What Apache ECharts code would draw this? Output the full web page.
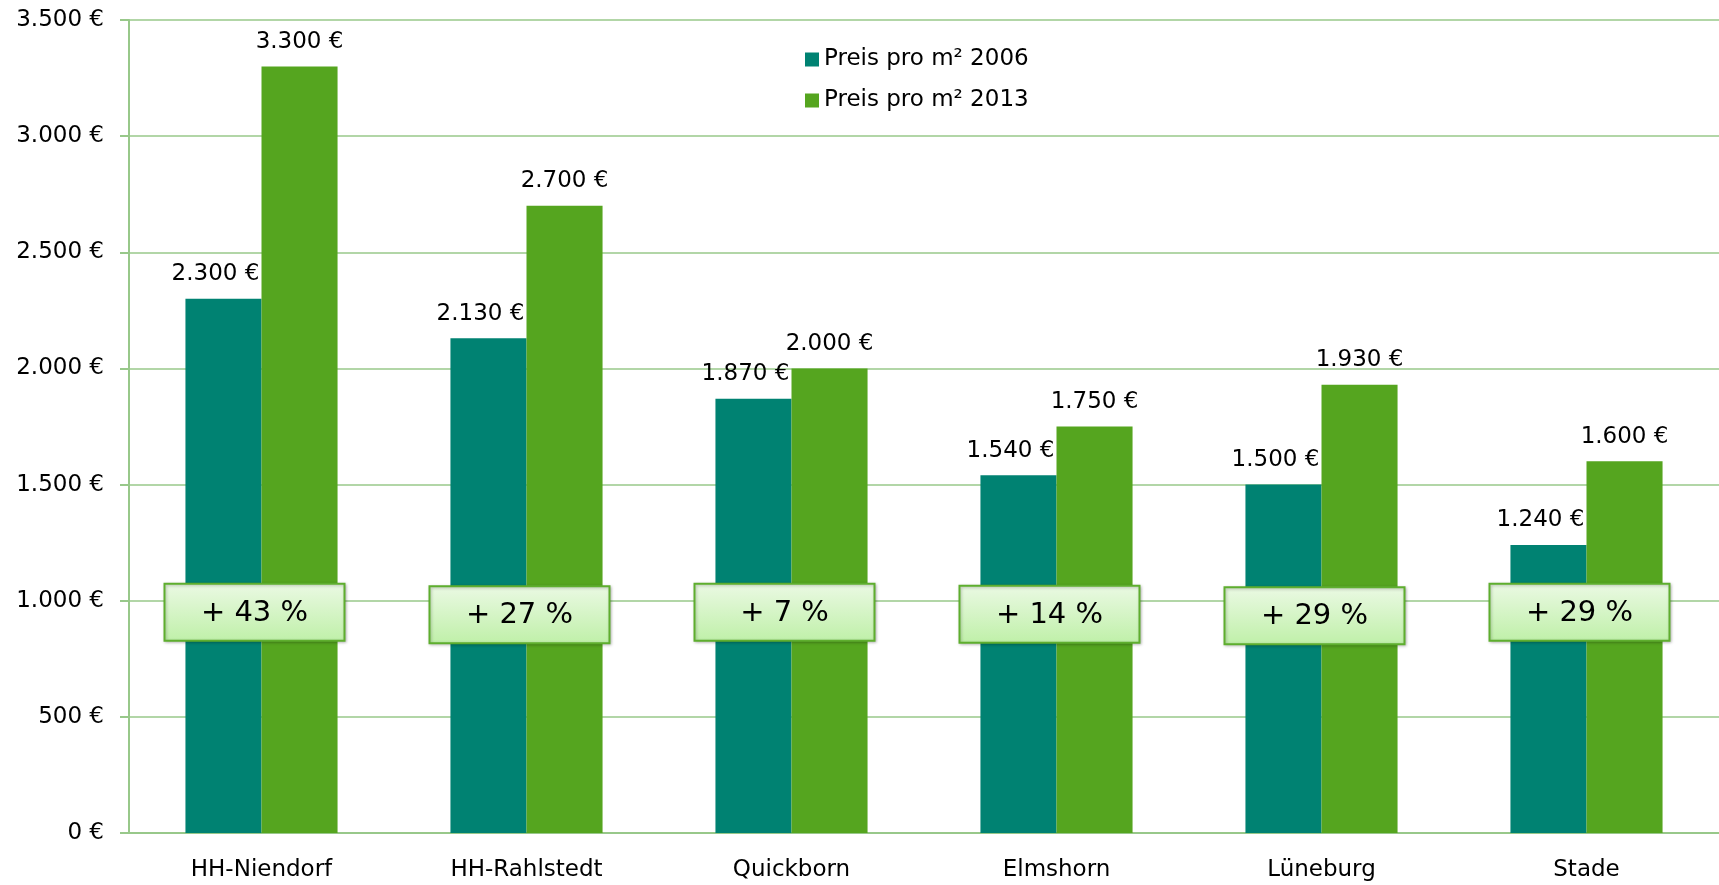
<!DOCTYPE html>
<html>
<head>
<meta charset="utf-8">
<script src="https://cdn.jsdelivr.net/npm/echarts@6/dist/echarts.min.js"></script>
<style>
  html, body { margin: 0; padding: 0; background: #fff; }
  #chart { width: 1719px; height: 885px; }
</style>
</head>
<body>
<div id="chart"></div>
<script>
var cities = ["HH-Niendorf", "HH-Rahlstedt", "Quickborn", "Elmshorn", "Lüneburg", "Stade"];
var price2006 = [2300, 2130, 1870, 1540, 1500, 1240];
var price2013 = [3300, 2700, 2000, 1750, 1930, 1600];
var growth = ["+ 43 %", "+ 27 %", "+ 7 %", "+ 14 %", "+ 29 %", "+ 29 %"];
// hoehe der prozent-kaesten (in euro-skala)
var boxLevel = [950, 940, 950, 942, 935, 950];

var FONT = "'DejaVu Sans', sans-serif";

function euro(v) {
    var s = String(Math.round(v));
    s = s.replace(/\B(?=(\d{3})+(?!\d))/g, ".");
    return s + " €";
}

var chart = echarts.init(document.getElementById("chart"));

var boxData = [];
for (var i = 0; i < cities.length; i++) {
    boxData.push([i, boxLevel[i], growth[i]]);
}

var option = {
    animation: false,
    textStyle: { fontFamily: FONT },
    grid: { left: 129, right: 0, top: 20, bottom: 52 },
    legend: {
        orient: "vertical",
        left: 800,
        top: 43,
        itemWidth: 14,
        itemHeight: 14,
        itemGap: 18,
        icon: "rect",
        textStyle: { fontSize: 23, color: "#000", fontFamily: FONT }
    },
    xAxis: {
        type: "category",
        data: cities,
        axisTick: { show: false },
        axisLine: { lineStyle: { color: "#98c88a", width: 2 } },
        axisLabel: { color: "#000", fontSize: 23, margin: 26, fontFamily: FONT }
    },
    yAxis: {
        type: "value",
        min: 0,
        max: 3500,
        interval: 500,
        axisLine: { show: true, lineStyle: { color: "#98c88a", width: 2 } },
        axisTick: { show: true, length: 9, lineStyle: { color: "#98c88a", width: 2 } },
        splitLine: { lineStyle: { color: "#98c88a", width: 1.5 } },
        axisLabel: { color: "#000", fontSize: 23, margin: 25, fontFamily: FONT, formatter: euro }
    },
    series: [
        {
            name: "Preis pro m² 2006",
            type: "bar",
            data: price2006,
            barWidth: "28.7%",
            barGap: "0%",
            itemStyle: { color: "#008272" },
            label: {
                show: true, position: "top", distance: 13,
                color: "#000", fontSize: 23, fontFamily: FONT, offset: [-8, 0],
                formatter: function (p) { return euro(p.value); }
            }
        },
        {
            name: "Preis pro m² 2013",
            type: "bar",
            data: price2013,
            barWidth: "28.7%",
            itemStyle: { color: "#55a51f" },
            label: {
                show: true, position: "top", distance: 13,
                color: "#000", fontSize: 23, fontFamily: FONT,
                formatter: function (p) { return euro(p.value); }
            }
        },
        {
            type: "custom",
            silent: true,
            z: 10,
            data: boxData,
            renderItem: function (params, api) {
                var pt = api.coord([api.value(0), api.value(1)]);
                var w = 180, h = 57;
                var x = pt[0] - 7 - w / 2;
                var y = pt[1] - h / 2;
                return {
                    type: "group",
                    children: [
                        {
                            type: "rect",
                            shape: { x: x, y: y, width: w, height: h },
                            style: {
                                fill: new echarts.graphic.LinearGradient(0, 0, 0, 1, [
                                    { offset: 0, color: "#ebf9e4" },
                                    { offset: 1, color: "#bff0a8" }
                                ]),
                                stroke: "#5eae2e",
                                lineWidth: 2,
                                shadowBlur: 3,
                                shadowColor: "rgba(0,0,0,0.25)",
                                shadowOffsetX: 1,
                                shadowOffsetY: 1
                            }
                        },
                        {
                            type: "text",
                            style: {
                                x: x + w / 2,
                                y: y + h / 2 + 1,
                                text: boxData[params.dataIndex][2],
                                fill: "#000",
                                font: "29px " + FONT,
                                align: "center",
                                verticalAlign: "middle"
                            }
                        }
                    ]
                };
            }
        }
    ]
};

chart.setOption(option);
</script>
</body>
</html>
